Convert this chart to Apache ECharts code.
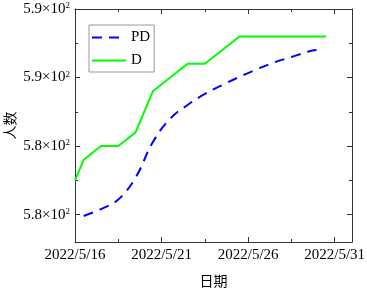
<!DOCTYPE html>
<html>
<head>
<meta charset="utf-8">
<script src="https://cdn.jsdelivr.net/npm/echarts@6/dist/echarts.min.js"></script>
<style>
  html, body { margin: 0; padding: 0; background: #fff; }
  #chart { width: 367px; height: 288px; }
</style>
</head>
<body>
<div id="chart"></div>
<script>
// x = days after 2022/5/16
const dDays = [0, 0.5, 1.5, 2.5, 3.5, 4.5, 6.5, 7.5, 9.5, 14.5]
const dValues = [577.5, 579, 580, 580, 581, 584, 586, 586, 588, 588]
const pdDays = [0.5, 1.5, 2.5, 3.5, 4.5, 5.5, 6.5, 7.5, 8.5, 9.5, 10.5, 11.5, 12.5, 13.5, 13.95]
const pdValues = [574.9, 575.4, 576.1, 577.7, 580.3, 582.0, 583.0, 583.8, 584.45, 585.05, 585.6, 586.1, 586.5, 586.9, 587.0]

const xMajor = [0, 5, 10, 15]
const xMinor = [2.5, 7.5, 12.5]
const yMajor = [575, 580, 585, 590]
const yMinor = [577.5, 582.5, 587.5]
const yTickText = { 575: '5.8', 580: '5.8', 585: '5.9', 590: '5.9' }

const serif = 'Liberation Serif'
const cjk = 'Noto Sans CJK SC'
const axisColor = '#333'

const chart = echarts.init(document.getElementById('chart'))

const dateLabel = v => '2022/5/' + (16 + v)

// axis that only draws ticks (frame + minor ticks)
const tickAxis = (pos, min, max, ticks, len, showLine) => ({
  type: 'value',
  position: pos,
  min: min,
  max: max,
  splitLine: { show: false },
  axisLine: { show: showLine, onZero: false, lineStyle: { color: axisColor, width: 1 } },
  axisTick: { show: true, inside: true, length: len, customValues: ticks, lineStyle: { color: axisColor } },
  axisLabel: { show: false }
})

const option = {
  animation: false,
  backgroundColor: '#fff',
  grid: { left: 75, right: 15, top: 9, bottom: 46, outerBoundsMode: 'none' },
  // y axis title, rotated like the original
  graphic: [
    {
      type: 'text',
      x: 10,
      y: 125.5,
      rotation: Math.PI / 2,
      style: {
        text: '人数',
        align: 'center',
        verticalAlign: 'middle',
        fontFamily: cjk,
        fontSize: 14,
        fill: '#000'
      }
    }
  ],
  legend: {
    data: ['PD', 'D'],
    orient: 'vertical',
    left: 89,
    top: 25,
    padding: [5, 4, 4, 2],
    itemGap: 8,
    itemWidth: 34,
    itemHeight: 14,
    borderColor: '#999',
    borderWidth: 1,
    itemStyle: { opacity: 0 },
    textStyle: { fontFamily: serif, fontSize: 15, color: '#000' }
  },
  xAxis: [
    {
      type: 'value',
      position: 'bottom',
      min: 0,
      max: 16,
      name: '日期',
      nameLocation: 'middle',
      nameGap: 32,
      nameTextStyle: { fontFamily: cjk, fontSize: 14, color: '#000' },
      splitLine: { show: false },
      axisLine: { show: true, onZero: false, lineStyle: { color: axisColor } },
      axisTick: { show: true, inside: true, length: 5, customValues: xMajor, lineStyle: { color: axisColor } },
      axisLabel: {
        customValues: xMajor,
        formatter: dateLabel,
        margin: 6,
        fontFamily: serif,
        fontSize: 15,
        color: '#000'
      }
    },
    tickAxis('bottom', 0, 16, xMinor, 3, false),
    tickAxis('top', 0, 16, xMajor, 5, true),
    tickAxis('top', 0, 16, xMinor, 3, false)
  ],
  yAxis: [
    {
      type: 'value',
      position: 'left',
      min: 573,
      max: 590,
      splitLine: { show: false },
      axisLine: { show: true, onZero: false, lineStyle: { color: axisColor } },
      axisTick: { show: true, inside: true, length: 5, customValues: yMajor, lineStyle: { color: axisColor } },
      axisLabel: {
        customValues: yMajor,
        margin: 5,
        formatter: v => '{a|' + yTickText[v] + '×10}{b|2}',
        rich: {
          a: { fontFamily: serif, fontSize: 15, color: '#000' },
          b: { fontFamily: serif, fontSize: 9, color: '#000', verticalAlign: 'top' }
        }
      }
    },
    tickAxis('left', 573, 590, yMinor, 3, false),
    tickAxis('right', 573, 590, yMajor, 5, true),
    tickAxis('right', 573, 590, yMinor, 3, false)
  ],
  series: [
    {
      name: 'PD',
      type: 'line',
      xAxisIndex: 0,
      yAxisIndex: 0,
      smooth: 0.4,
      symbol: 'none',
      color: '#0000ff',
      lineStyle: { color: '#0000ff', width: 2, type: [10, 7] },
      data: pdDays.map((d, i) => [d, pdValues[i]])
    },
    {
      name: 'D',
      type: 'line',
      xAxisIndex: 0,
      yAxisIndex: 0,
      symbol: 'none',
      color: '#00ff00',
      lineStyle: { color: '#00ff00', width: 2 },
      data: dDays.map((d, i) => [d, dValues[i]])
    }
  ]
}

chart.setOption(option)
</script>
</body>
</html>
